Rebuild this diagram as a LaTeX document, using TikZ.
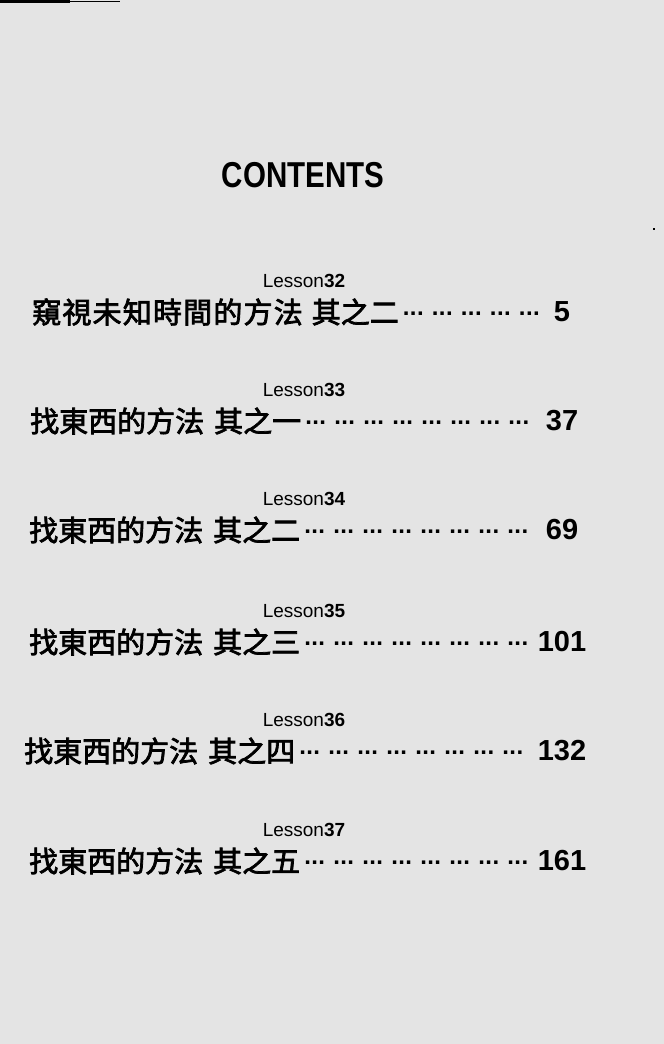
\documentclass[tikz,border=0pt]{standalone}
\usepackage{fontspec}
\usepackage{graphicx}
\setmainfont{Liberation Sans}
\newfontfamily\cjk{Noto Sans CJK TC}[FakeBold=2.6]
\definecolor{paper}{RGB}{228,228,228}
\newcommand\dotgrp{\makebox[29bp][c]{\raisebox{8bp}{\rmfamily\fontsize{24bp}{24bp}\selectfont\bfseries.\kern0.4bp.\kern0.4bp.}}}
\newcommand\fivedots{\dotgrp\dotgrp\dotgrp\dotgrp\dotgrp}
\newcommand\eightdots{\dotgrp\dotgrp\dotgrp\dotgrp\dotgrp\dotgrp\dotgrp\dotgrp}
\tikzset{
  entry/.style={anchor=west, inner sep=0pt, font={\fontsize{29bp}{29bp}\cjk}},
  pnum/.style={anchor=center, inner sep=0pt, font={\fontsize{29bp}{29bp}\selectfont\bfseries}},
  lesson/.style={anchor=base, inner sep=0pt, font={\fontsize{19bp}{19bp}\selectfont}},
  ttl/.style={anchor=center, inner sep=0pt, font={\fontsize{36bp}{36bp}\selectfont\bfseries}}
}
\begin{document}
\begin{tikzpicture}[x=1bp,y=-1bp]
\fill[paper] (0,0) rectangle (664,1044);
\useasboundingbox (0,0) rectangle (664,1044);
\fill[black] (0,0) rectangle (70,2.5);
\fill[black] (70,0.6) rectangle (120,1.6);
\fill[black] (653,228) rectangle (655,230);

\node[ttl] (title) at (303,175) {\scalebox{0.82}[1]{CONTENTS}};

\node[lesson] (l1) at (304,287) {Lesson\textbf{32}};
\node[entry] (t1) at (32,312) {窺\kern1.2bp 視\kern1.2bp 未\kern1.2bp 知\kern1.2bp 時\kern1.2bp 間\kern1.2bp 的\kern1.2bp 方\kern1.2bp 法\hspace{9bp}其之二\fivedots};
\node[pnum] (p1) at (562,312) {5};

\node[lesson] (l2) at (304,396) {Lesson\textbf{33}};
\node[entry] (t2) at (30,421) {找東西的方法\hspace{10bp}其之一\eightdots};
\node[pnum] (p2) at (562,421) {37};

\node[lesson] (l3) at (304,505) {Lesson\textbf{34}};
\node[entry] (t3) at (29,530) {找東西的方法\hspace{10bp}其之二\eightdots};
\node[pnum] (p3) at (562,530) {69};

\node[lesson] (l4) at (304,617) {Lesson\textbf{35}};
\node[entry] (t4) at (29,642) {找東西的方法\hspace{10bp}其之三\eightdots};
\node[pnum] (p4) at (562,642) {101};

\node[lesson] (l5) at (304,726) {Lesson\textbf{36}};
\node[entry] (t5) at (24,751) {找東西的方法\hspace{10bp}其之四\eightdots};
\node[pnum] (p5) at (562,751) {132};

\node[lesson] (l6) at (304,836) {Lesson\textbf{37}};
\node[entry] (t6) at (29,861) {找東西的方法\hspace{10bp}其之五\eightdots};
\node[pnum] (p6) at (562,861) {161};
\end{tikzpicture}
\end{document}
